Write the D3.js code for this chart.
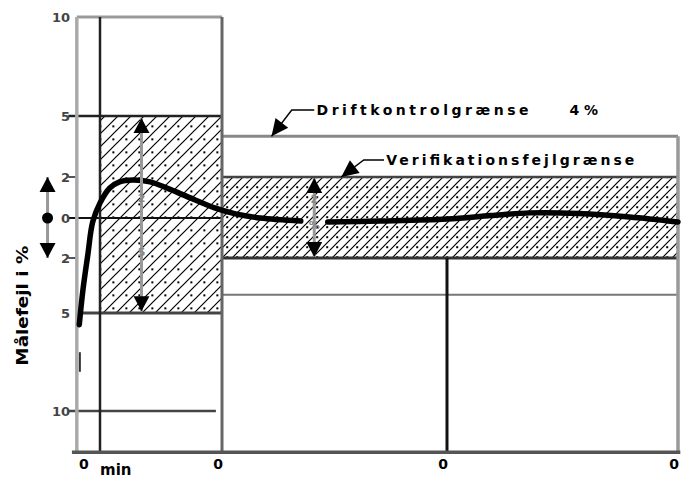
<!DOCTYPE html>
<html>
<head>
<meta charset="utf-8">
<script src="https://cdn.jsdelivr.net/npm/d3@7"></script>
<style>
  body { margin: 0; background: #fff; }
  text { font-family: "DejaVu Sans", "Liberation Sans", Arial, sans-serif; font-weight: bold; }
</style>
</head>
<body>
<div id="chart"></div>
<script>
// Chart values
var yTicks = [10, 5, 2, 0, -2, -5, -10];
var yTickLabels = ["10", "5", "2", "0", "2", "5", "10"];
var xTicks = [-0.1, 1, 2, 3];
var xTickLabels = ["0", "0", "0", "0"];
var verifLimit = [2, 5];      // verifikationsfejlgrænse after / during warm-up
var driftLimit = 4;           // driftkontrolgrænse
var frameTop = 10;
var frameBottom = -12.1;
var frameLeft = -0.19;

// measured error curve (two pieces, gap where the arrow crosses)
var curveAX = [-0.17, -0.14, -0.10, -0.06, 0, 0.08, 0.16, 0.27, 0.41, 0.57, 0.78, 0.94, 1.06, 1.17, 1.35];
var curveAY = [-5.6, -3.75, -1.85, -0.2, 0.73, 1.46, 1.76, 1.85, 1.76, 1.41, 0.88, 0.49, 0.2, 0, -0.15];
var curveBX = [1.47, 1.70, 2.0, 2.19, 2.36, 2.57, 2.79, 3.0];
var curveBY = [-0.2, -0.15, -0.05, 0.12, 0.25, 0.22, 0.05, -0.2];
var tailY = [-7, -8];

var svgWidth = 700;
var svgHeight = 481;

var svg = d3.select("#chart")
  .append("svg")
  .attr("width", svgWidth)
  .attr("height", svgHeight);

// the scanned drawing is not quite linear, so use piecewise scales
var xScale = d3.scaleLinear()
  .domain([0, 1, 2, 3])
  .range([100, 222, 447, 678]);

var yScale = d3.scaleLinear()
  .domain([-10, -5, -2, 0, 2, 5, 10])
  .range([411, 313, 258, 218, 177, 116, 17]);

// hatch patterns: diagonal lines with dots
var defs = svg.append("defs");
function hatch(id, size) {
  var p = defs.append("pattern")
    .attr("id", id)
    .attr("patternUnits", "userSpaceOnUse")
    .attr("width", size)
    .attr("height", size);
  p.append("path")
    .attr("d", `M-1,${size + 1} L${size + 1},-1 M${-size / 2},${size / 2} L${size / 2},${-size / 2} M${size / 2},${size * 1.5} L${size * 1.5},${size / 2}`)
    .attr("stroke", "#000")
    .attr("stroke-width", 1.2);
  p.append("rect")
    .attr("x", size * 0.72 - 1)
    .attr("y", size * 0.72 - 1)
    .attr("width", 2)
    .attr("height", 2)
    .attr("fill", "#000");
}
hatch("hatch1", 13);
hatch("hatch2", 10);

// hatched tolerance bands
svg.append("rect")
  .attr("x", xScale(0))
  .attr("y", yScale(verifLimit[1]))
  .attr("width", xScale(1) - xScale(0))
  .attr("height", yScale(-verifLimit[1]) - yScale(verifLimit[1]))
  .attr("fill", "url(#hatch1)");

svg.append("rect")
  .attr("x", xScale(1))
  .attr("y", yScale(verifLimit[0]))
  .attr("width", xScale(3) - xScale(1))
  .attr("height", yScale(-verifLimit[0]) - yScale(verifLimit[0]))
  .attr("fill", "url(#hatch2)");

// helper for plain lines
function line(x1, y1, x2, y2, color, w) {
  svg.append("line")
    .attr("x1", xScale(x1)).attr("y1", yScale(y1))
    .attr("x2", xScale(x2)).attr("y2", yScale(y2))
    .attr("stroke", color)
    .attr("stroke-width", w);
}

// horizontal grid / limit lines
line(frameLeft, frameTop, 1, frameTop, "#999", 3);
line(-0.26, 5, 1, 5, "#222", 2.5);
line(-0.26, 0, 1, 0, "#111", 2);
line(frameLeft, -5, 1, -5, "#444", 3);
line(-0.26, -10, 0.95, -10, "#444", 2.5);
line(-0.26, 2, frameLeft, 2, "#555", 2);
line(-0.26, -2, frameLeft, -2, "#555", 2);
line(1, driftLimit, 3, driftLimit, "#888", 3);
line(1, verifLimit[0], 3, verifLimit[0], "#444", 2.5);
line(1, -verifLimit[0], 3, -verifLimit[0], "#333", 3);
line(1, -driftLimit, 3, -driftLimit, "#777", 2);

// vertical frame lines
line(frameLeft, frameTop, frameLeft, frameBottom, "#aaa", 3.5);
line(0, frameTop, 0, frameBottom, "#222", 2.5);
line(1, frameTop, 1, frameBottom, "#666", 3);
line(2, -verifLimit[0], 2, frameBottom, "#111", 3);
line(3, driftLimit, 3, frameBottom, "#999", 3.5);
line(-0.23, frameBottom, 3.01, frameBottom, "#555", 3.5);

// measured curve
var curveGen = d3.line()
  .x(d => xScale(d[0]))
  .y(d => yScale(d[1]))
  .curve(d3.curveCatmullRom);

[d3.zip(curveAX, curveAY), d3.zip(curveBX, curveBY)].forEach(function(pts) {
  svg.append("path")
    .attr("d", curveGen(pts))
    .attr("fill", "none")
    .attr("stroke", "#000")
    .attr("stroke-width", 5.5)
    .attr("stroke-linecap", "round");
});
line(-0.165, tailY[0], -0.165, tailY[1], "#333", 2);

// double arrows
function doubleArrow(x, top, bottom) {
  var px = xScale(x), pt = yScale(top), pb = yScale(bottom);
  line(x, top, x, bottom, "#999", 3);
  svg.append("path")
    .attr("d", `M${px},${pt} L${px - 8},${pt + 15} L${px + 8},${pt + 15} Z`)
    .attr("fill", "#000");
  svg.append("path")
    .attr("d", `M${px},${pb} L${px - 8},${pb - 15} L${px + 8},${pb - 15} Z`)
    .attr("fill", "#000");
}
doubleArrow(0.34, 4.9, -4.9);
doubleArrow(1.41, 1.95, -1.95);
doubleArrow(-0.43, 2, -2);
svg.append("circle")
  .attr("cx", xScale(-0.43))
  .attr("cy", yScale(0))
  .attr("r", 5.5)
  .attr("fill", "#000");

// small labels on the arrows
var arrowLabels = [[0.34, 0.8, "2"], [0.34, -1.9, "5"], [1.41, 0.75, "2"], [1.41, -0.55, "%"]];
svg.selectAll(".arrowLabel")
  .data(arrowLabels)
  .enter()
  .append("text")
  .attr("class", "arrowLabel")
  .attr("x", d => xScale(d[0]))
  .attr("y", d => yScale(d[1]))
  .attr("text-anchor", "middle")
  .attr("font-size", 11)
  .attr("fill", "#888")
  .text(d => d[2]);

// leader arrows for the annotations
function leader(tipX, tipY, elbowX, elbowY, endX) {
  svg.append("polyline")
    .attr("points", [[xScale(endX), yScale(elbowY)], [xScale(elbowX), yScale(elbowY)], [xScale(tipX), yScale(tipY)]].map(p => p.join(",")).join(" "))
    .attr("fill", "none")
    .attr("stroke", "#000")
    .attr("stroke-width", 1.5);
  var tx = xScale(tipX), ty = yScale(tipY);
  var ang = Math.atan2(yScale(elbowY) - ty, xScale(elbowX) - tx);
  var len = 17, half = 8;
  var bx = tx + Math.cos(ang) * len, by = ty + Math.sin(ang) * len;
  svg.append("path")
    .attr("d", `M${tx},${ty} L${bx - Math.sin(ang) * half},${by + Math.cos(ang) * half} L${bx + Math.sin(ang) * half},${by - Math.cos(ang) * half} Z`)
    .attr("fill", "#000");
}
leader(1.22, driftLimit, 1.31, 5.3, 1.41);
leader(1.53, verifLimit[0], 1.63, 2.84, 1.72);

svg.append("text")
  .attr("x", xScale(1.42))
  .attr("y", yScale(5.3) + 5)
  .attr("font-size", 14)
  .attr("textLength", 212)
  .attr("lengthAdjust", "spacing")
  .text("Driftkontrolgrænse");

svg.append("text")
  .attr("x", xScale(2.53))
  .attr("y", yScale(5.3) + 5)
  .attr("font-size", 14)
  .text("4 %");

svg.append("text")
  .attr("x", xScale(1.73))
  .attr("y", yScale(2.84) + 5)
  .attr("font-size", 14)
  .attr("textLength", 248)
  .attr("lengthAdjust", "spacing")
  .text("Verifikationsfejlgrænse");

// y tick labels
svg.selectAll(".yTick")
  .data(yTicks)
  .enter()
  .append("text")
  .attr("class", "yTick")
  .attr("x", 70)
  .attr("y", d => yScale(d) + 5)
  .attr("text-anchor", "end")
  .attr("font-size", 13)
  .attr("fill", "#444")
  .text((d, i) => yTickLabels[i]);

// x tick labels
svg.selectAll(".xTick")
  .data(xTicks)
  .enter()
  .append("text")
  .attr("class", "xTick")
  .attr("x", d => xScale(d) - 4)
  .attr("y", 469)
  .attr("text-anchor", "middle")
  .attr("font-size", 14)
  .text((d, i) => xTickLabels[i]);

svg.append("text")
  .attr("x", 100)
  .attr("y", 475)
  .attr("font-size", 15)
  .text("min");

// axis title
svg.append("text")
  .attr("transform", `translate(28, ${yScale(-4.6)}) rotate(-90)`)
  .attr("text-anchor", "middle")
  .attr("font-size", 15)
  .attr("textLength", 120)
  .attr("lengthAdjust", "spacingAndGlyphs")
  .text("Målefejl i %");
</script>
</body>
</html>
